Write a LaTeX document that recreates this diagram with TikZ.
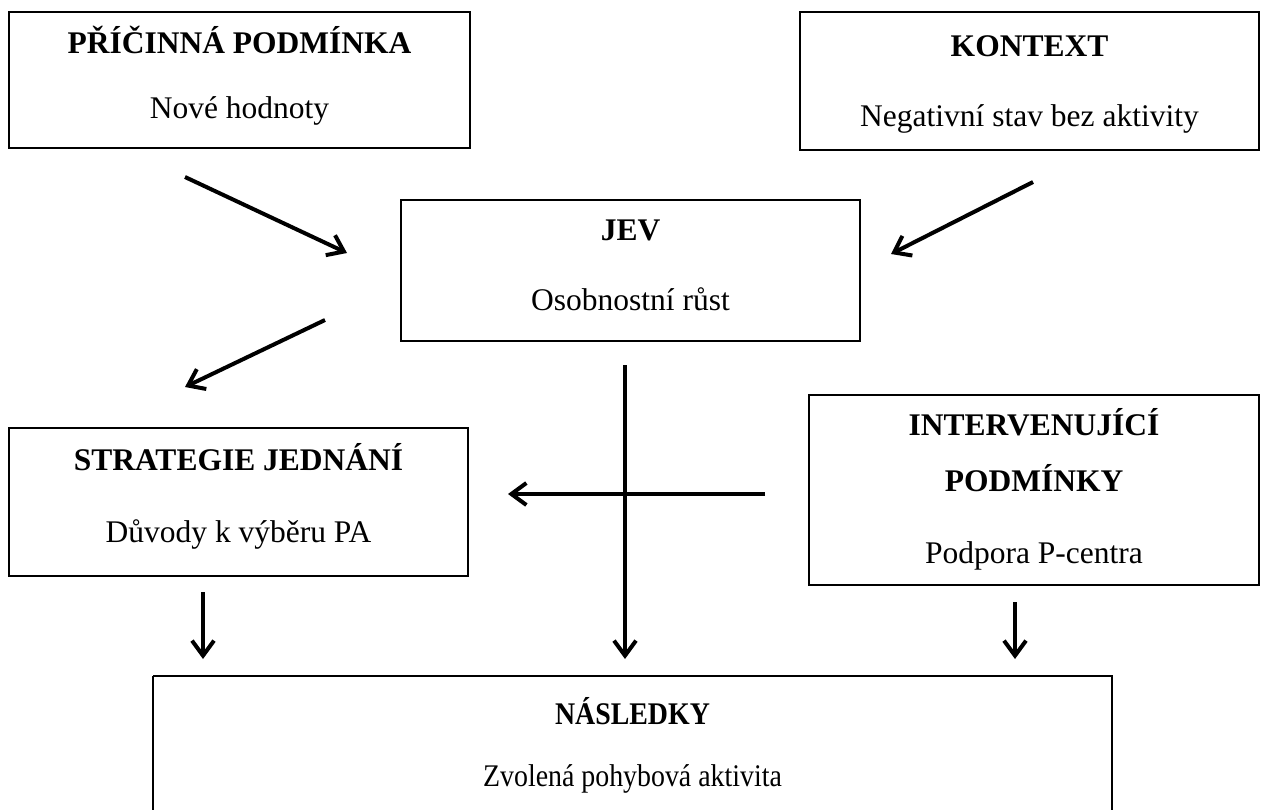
\documentclass[tikz,border=0pt]{standalone}
\usepackage{fontspec}
\setmainfont{Liberation Serif}
\usetikzlibrary{arrows.meta}
\begin{document}
\begin{tikzpicture}[x=1pt,y=-1pt,
  box/.style={draw,line width=1.3pt,inner sep=0pt},
  ttl/.style={font=\fontsize{31.5}{33}\selectfont\bfseries,inner sep=0pt,anchor=base},
  txt/.style={font=\fontsize{31.5}{33}\selectfont,inner sep=0pt,anchor=base},
  arr/.style={line width=4pt,-{Straight Barb[length=15pt,width=22pt,line width=4pt]}}]
\useasboundingbox (0,0) rectangle (1269,809);
% boxes
\draw[box] (9,12) rectangle (470,148);
\node[ttl] (t1) at (239.5,53) {PŘÍČINNÁ PODMÍNKA};
\node[txt] (s1) at (239.5,118) {Nové hodnoty};
\draw[box] (800,12) rectangle (1259,150);
\node[ttl] (t2) at (1029.5,56) {KONTEXT};
\node[txt] (s2) at (1029.5,126) {Negativní stav bez aktivity};
\draw[box] (401,200) rectangle (860,341);
\node[ttl] (t3) at (630.5,240) {JEV};
\node[txt] (s3) at (630.5,310) {Osobnostní růst};
\draw[box] (9,428) rectangle (468,576);
\node[ttl] (t4) at (238.5,470) {STRATEGIE JEDNÁNÍ};
\node[txt] (s4) at (238.5,542) {Důvody k výběru PA};
\draw[box] (809,395) rectangle (1259,585);
\node[ttl] (t5) at (1034,435) {INTERVENUJÍCÍ};
\node[ttl] (t5b) at (1034,491) {PODMÍNKY};
\node[txt] (s5) at (1034,563) {Podpora P-centra};
\draw[box] (153,676) -- (153,812) (153,676) -- (1112,676) -- (1112,812);
\node[ttl] (t6) at (632.5,724) {\scalebox{0.885}[1]{NÁSLEDKY}};
\node[txt] (s6) at (632.5,786) {\scalebox{0.885}[1]{Zvolená pohybová aktivita}};
% arrow end points
\coordinate (a1s) at (185,177); \coordinate (a1e) at (347,253);
\coordinate (a2s) at (1033,182); \coordinate (a2e) at (891,254);
\coordinate (a3s) at (325,320); \coordinate (a3e) at (185,387);
\coordinate (a4s) at (625,365); \coordinate (a4e) at (625,659);
\coordinate (a5s) at (765,494); \coordinate (a5e) at (508,494);
\coordinate (a6s) at (203,592); \coordinate (a6e) at (203,659);
\coordinate (a7s) at (1015,602); \coordinate (a7e) at (1015,659);
\foreach \i in {1,...,7} \draw[arr] (a\i s) -- (a\i e);
\end{tikzpicture}
\end{document}
